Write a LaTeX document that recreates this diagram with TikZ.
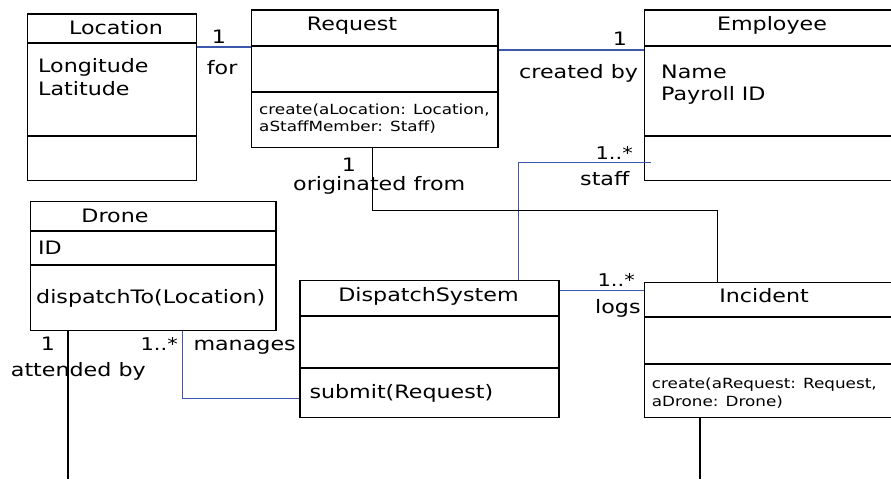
\documentclass[tikz,border=0pt]{standalone}
\usepackage{fontspec}
\setmainfont{DejaVu Sans}[FakeStretch=1.2]
\definecolor{assocblue}{RGB}{60,88,172}
\tikzset{
  classbox/.style={draw=black, line width=1.2pt, rectangle, anchor=north west, inner sep=0pt},
  divider/.style={line width=2pt},
  assoc/.style={draw=assocblue, line width=1.2pt},
  link/.style={draw=black, line width=1.4pt},
  bigtext/.style={font=\fontsize{18.5}{22}\selectfont, inner sep=0pt, anchor=base west},
  titletext/.style={bigtext, anchor=base},
  multtext/.style={font=\fontsize{17.5}{20}\selectfont, inner sep=0pt, anchor=base east},
  smalltext/.style={font=\fontsize{14}{16}\selectfont, inner sep=0pt, anchor=base west},
}
\newcommand\splitrow[2]{\draw[divider] (#1.west |- 0,#2) -- (#1.east |- 0,#2);}

\begin{document}
\begin{tikzpicture}[x=1pt,y=-1pt]
\useasboundingbox (0,0) rectangle (891,479);
\clip (0,0) rectangle (891,479);

% ---- classes ----
\node[classbox, minimum width=169.3pt, minimum height=166.7pt] (location) at (26.7,13.3) {};
\splitrow{location}{43.3}
\splitrow{location}{135.7}
\node[titletext] (locname) at (116,34.3) {Location};
\node[bigtext] (locattr1) at (38,72.5) {Longitude};
\node[bigtext] (locattr2) at (38,95) {Latitude};

\node[classbox, minimum width=246.3pt, minimum height=137.4pt] (request) at (251,9.3) {};
\splitrow{request}{45.7}
\splitrow{request}{92.3}
\node[titletext] (reqname) at (352,30) {Request};
\node[smalltext] (reqop1) at (259,114.5) {create(aLocation: Location,};
\node[smalltext] (reqop2) at (259,131) {aStaffMember: Staff)};

\node[classbox, minimum width=251pt, minimum height=170.7pt] (employee) at (644,9.3) {};
\splitrow{employee}{46}
\splitrow{employee}{135.7}
\node[titletext] (empname) at (772,30) {Employee};
\node[bigtext] (empattr1) at (661,78.3) {Name};
\node[bigtext] (empattr2) at (661,100) {Payroll ID};

\node[classbox, minimum width=245.3pt, minimum height=129.3pt] (drone) at (30,200.7) {};
\splitrow{drone}{231}
\splitrow{drone}{265}
\node[titletext] (dronename) at (115,222.7) {Drone};
\node[bigtext] (droneattr) at (38,254) {ID};
\node[bigtext] (droneop) at (36,303.3) {dispatchTo(Location)};

\node[classbox, minimum width=259pt, minimum height=136.7pt] (dispatch) at (299.3,280) {};
\splitrow{dispatch}{316}
\splitrow{dispatch}{368.3}
\node[titletext] (dispname) at (428.5,301.7) {DispatchSystem};
\node[bigtext] (dispop) at (309.3,398.3) {submit(Request)};

\node[classbox, minimum width=251pt, minimum height=135pt] (incident) at (644,281.7) {};
\splitrow{incident}{317.3}
\splitrow{incident}{364.3}
\node[titletext] (incname) at (764,302.7) {Incident};
\node[smalltext] (incop1) at (651.7,388.3) {create(aRequest: Request,};
\node[smalltext] (incop2) at (651.7,406.7) {aDrone: Drone)};

% ---- associations ----
\coordinate (forY) at (0,47);
\draw[assoc] (location.east |- forY) -- (request.west |- forY);
\node[bigtext] (formult) at (211.7,43.3) {1};
\node[bigtext] (forlbl) at (206.7,74) {for};

\coordinate (byY) at (0,50);
\draw[assoc] (request.east |- byY) -- (employee.west |- byY);
\node[bigtext] (bymult) at (612.7,45) {1};
\node[bigtext] (bylbl) at (519,78.3) {created by};

\coordinate (staffbend) at (518.5,162.5);
\coordinate (staffend) at (650.7,162.5);
\draw[assoc] (staffend) -- (staffbend) -- (staffbend |- dispatch.north);
\node[multtext] (staffmult) at (633,159.3) {1..*};
\node[bigtext] (stafflbl) at (580,185) {staff};

\coordinate (origA) at (372.7,210.7);
\coordinate (origB) at (717.7,210.7);
\draw[link] (request.south -| origA) -- (origA) -- (origB) -- (origB |- incident.north);
\node[bigtext] (origmult) at (341.7,171.7) {1};
\node[bigtext] (origlbl) at (293,190) {originated from};

\coordinate (logsY) at (0,290.5);
\draw[assoc] (dispatch.east |- logsY) -- (incident.west |- logsY);
\node[multtext] (logsmult) at (635,286) {1..*};
\node[bigtext] (logslbl) at (595,313) {logs};

\coordinate (mgA) at (182.5,398.5);
\draw[assoc] (drone.south -| mgA) -- (mgA) -- (dispatch.west |- mgA);
\node[multtext] (mgmult) at (178,350) {1..*};
\node[bigtext] (mglbl) at (193.3,350) {manages};

\coordinate (attEnd) at (68,479);
\draw[link] (drone.south -| attEnd) -- (attEnd);
\node[bigtext] (attmult) at (40.7,350) {1};
\node[bigtext] (attlbl) at (10.7,376.7) {attended by};

\coordinate (incEnd) at (700,479);
\draw[link] (incident.south -| incEnd) -- (incEnd);
\end{tikzpicture}
\end{document}
